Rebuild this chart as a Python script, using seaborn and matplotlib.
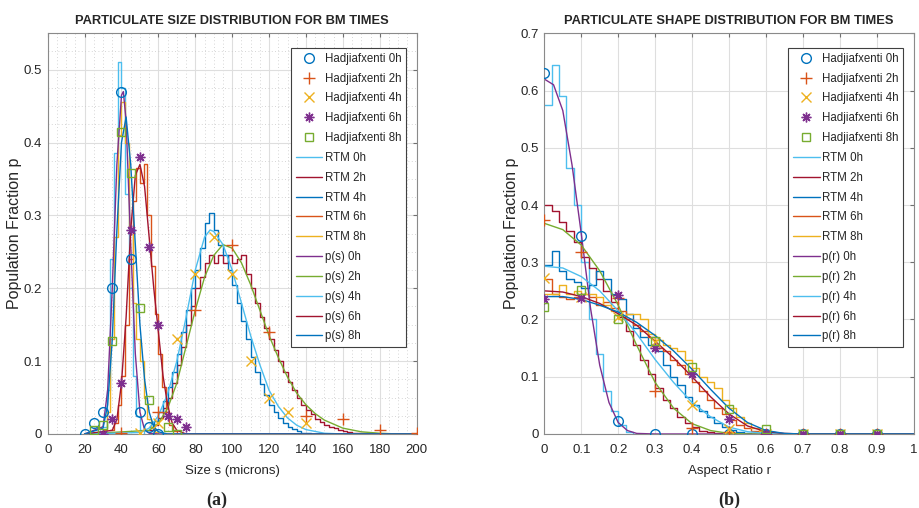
import numpy as np
import pandas as pd
import matplotlib
matplotlib.use("Agg")
import matplotlib.pyplot as plt
import seaborn as sns
from matplotlib.ticker import MultipleLocator, AutoMinorLocator

# ==========================================
# data
# ==========================================
# (a) size distribution -- Hadjiafxenti measured points
h0_s_x = [20, 25, 30, 35, 40, 45, 50, 55, 60]
h0_s_y = [0, 0.015, 0.03, 0.20, 0.47, 0.24, 0.03, 0.01, 0]
h2_s_x = [40, 60, 80, 100, 120, 140, 160, 180, 200]
h2_s_y = [0.002, 0.03, 0.17, 0.26, 0.14, 0.025, 0.02, 0.005, 0.002]
h4_s_x = [50, 60, 70, 80, 90, 100, 110, 120, 130, 140]
h4_s_y = [0.002, 0.015, 0.13, 0.22, 0.27, 0.22, 0.10, 0.05, 0.03, 0.015]
h6_s_x = [30, 35, 40, 45, 50, 55, 60, 65, 70, 75]
h6_s_y = [0, 0.02, 0.07, 0.28, 0.38, 0.256, 0.15, 0.025, 0.02, 0.01]
h8_s_x = [25, 30, 35, 40, 45, 50, 55, 65, 70]
h8_s_y = [0.005, 0.012, 0.127, 0.415, 0.358, 0.173, 0.046, 0.01, 0]

# RTM histograms (start of first bin, bin width, bin heights)
rtm0_s_start, rtm0_s_w = 30, 2
rtm0_s = [0.01, 0.06, 0.24, 0.385, 0.51, 0.475, 0.33, 0.2, 0.08, 0.025, 0.006]
rtm2_s_start, rtm2_s_w = 55, 2.5
rtm2_s = [0.005, 0.012, 0.022, 0.035, 0.05, 0.07, 0.095, 0.12, 0.15, 0.175,
          0.2, 0.215, 0.235, 0.245, 0.235, 0.245, 0.235, 0.245, 0.235, 0.24,
          0.245, 0.22, 0.2, 0.18, 0.16, 0.145, 0.13, 0.115, 0.1, 0.085,
          0.072, 0.06, 0.05, 0.04, 0.033, 0.027, 0.021, 0.017, 0.013, 0.01,
          0.008, 0.006, 0.004, 0.003, 0.002, 0.0015, 0.001, 0.001, 0.0005, 0.0005,
          0.0003, 0.0002, 0.0001, 0.0001]
rtm4_s_start, rtm4_s_w = 55, 2.5
rtm4_s = [0.01, 0.018, 0.03, 0.045, 0.065, 0.085, 0.11, 0.14, 0.17, 0.2,
          0.225, 0.255, 0.29, 0.303, 0.28, 0.26, 0.245, 0.225, 0.205, 0.18,
          0.155, 0.13, 0.105, 0.085, 0.068, 0.053, 0.04, 0.03, 0.022, 0.015,
          0.01, 0.007, 0.004, 0.002, 0.001]
rtm6_s_start, rtm6_s_w = 34, 2
rtm6_s = [0.005, 0.015, 0.04, 0.08, 0.15, 0.24, 0.32, 0.365, 0.345, 0.37,
          0.3, 0.23, 0.165, 0.11, 0.065, 0.03, 0.012, 0.004]
rtm8_s_start, rtm8_s_w = 30, 2
rtm8_s = [0.005, 0.03, 0.13, 0.27, 0.41, 0.455, 0.40, 0.28, 0.18, 0.13,
          0.10, 0.05, 0.02, 0.008, 0.003]

# fitted p(s) curves
p0_s_x = [20, 30, 32.5, 35, 37.5, 40, 41, 42.5, 45, 47.5, 50, 52.5, 55, 60, 200]
p0_s_y = [0, 0.01, 0.06, 0.2, 0.37, 0.465, 0.47, 0.43, 0.26, 0.11, 0.03, 0.006, 0.001, 0, 0]
p2_s_x = [20, 55, 60, 65, 70, 75, 80, 85, 90, 95, 100, 105, 110, 115, 120, 125,
          130, 135, 140, 145, 150, 160, 170, 180, 190, 200]
p2_s_y = [0, 0.005, 0.015, 0.035, 0.07, 0.12, 0.17, 0.215, 0.245, 0.26, 0.255, 0.235,
          0.205, 0.17, 0.135, 0.105, 0.078, 0.056, 0.04, 0.028, 0.019, 0.008, 0.003,
          0.001, 0, 0]
p4_s_x = [20, 50, 55, 60, 65, 70, 75, 80, 85, 88, 90, 95, 100, 105, 110, 115, 120,
          125, 130, 135, 140, 150, 160, 200]
p4_s_y = [0, 0.002, 0.008, 0.025, 0.055, 0.1, 0.16, 0.225, 0.27, 0.28, 0.278, 0.26,
          0.225, 0.18, 0.135, 0.095, 0.06, 0.038, 0.022, 0.012, 0.006, 0.001, 0, 0]
p6_s_x = [20, 35, 37.5, 40, 42.5, 45, 47.5, 50, 52.5, 55, 57.5, 60, 62.5, 65, 67.5,
          70, 75, 200]
p6_s_y = [0, 0.005, 0.02, 0.07, 0.16, 0.28, 0.355, 0.37, 0.34, 0.27, 0.2, 0.14,
          0.08, 0.04, 0.015, 0.005, 0, 0]
p8_s_x = [20, 30, 32.5, 35, 37.5, 40, 42.5, 45, 47.5, 50, 52.5, 55, 57.5, 60, 65, 200]
p8_s_y = [0, 0.008, 0.04, 0.13, 0.28, 0.40, 0.435, 0.37, 0.26, 0.15, 0.075, 0.03,
          0.01, 0.003, 0, 0]

# (b) shape distribution -- Hadjiafxenti measured points
r_pts = [0, 0.1, 0.2, 0.3, 0.4, 0.5, 0.6, 0.7, 0.8, 0.9]
h0_r = [0.63, 0.345, 0.023, 0, 0, 0, 0, 0, 0, 0]
h2_r = [0.373, 0.318, 0.237, 0.075, 0.01, 0.003, 0, 0, 0, 0]
h4_r = [0.272, 0.24, 0.205, 0.16, 0.05, 0.009, 0, 0, 0, 0]
h6_r = [0.235, 0.237, 0.243, 0.15, 0.105, 0.027, 0, 0, 0, 0]
h8_r = [0.222, 0.252, 0.2, 0.162, 0.117, 0.043, 0.008, 0, 0, 0]

rtm_r_start, rtm_r_w = 0, 0.02
rtm0_r = [0.575, 0.645, 0.59, 0.465, 0.40, 0.30, 0.20, 0.14, 0.075, 0.04,
          0.015, 0.004]
rtm2_r = [0.40, 0.39, 0.37, 0.355, 0.335, 0.31, 0.29, 0.27, 0.25, 0.23,
          0.205, 0.18, 0.155, 0.13, 0.105, 0.08, 0.06, 0.045, 0.03, 0.02,
          0.012, 0.006, 0.003, 0.001]
rtm4_r = [0.295, 0.32, 0.285, 0.27, 0.265, 0.255, 0.26, 0.285, 0.27, 0.245,
          0.235, 0.21, 0.185, 0.17, 0.155, 0.145, 0.12, 0.1, 0.085, 0.065,
          0.05, 0.04, 0.03, 0.02, 0.012, 0.007, 0.003, 0.001]
rtm6_r = [0.27, 0.245, 0.24, 0.235, 0.24, 0.245, 0.24, 0.225, 0.23, 0.22,
          0.215, 0.2, 0.19, 0.18, 0.17, 0.15, 0.145, 0.13, 0.12, 0.105,
          0.09, 0.075, 0.06, 0.045, 0.035, 0.025, 0.015, 0.01, 0.005, 0.002]
rtm8_r = [0.245, 0.245, 0.26, 0.245, 0.25, 0.245, 0.245, 0.24, 0.225, 0.215,
          0.2, 0.21, 0.21, 0.2, 0.175, 0.165, 0.155, 0.15, 0.145, 0.13,
          0.115, 0.1, 0.09, 0.08, 0.06, 0.045, 0.03, 0.02, 0.01, 0.005]

p0_r_x = [0, 0.025, 0.05, 0.075, 0.1, 0.125, 0.15, 0.175, 0.2, 0.225, 0.25, 0.3, 1]
p0_r_y = [0.62, 0.61, 0.565, 0.47, 0.35, 0.22, 0.12, 0.055, 0.02, 0.006, 0.001, 0, 0]
p_r_x = [0, 0.05, 0.1, 0.15, 0.2, 0.25, 0.3, 0.35, 0.4, 0.45, 0.5, 0.55, 0.6, 0.65, 0.7, 1]
p2_r_y = [0.368, 0.357, 0.33, 0.285, 0.225, 0.155, 0.09, 0.045, 0.018, 0.006, 0.001,
          0, 0, 0, 0, 0]
p4_r_y = [0.293, 0.29, 0.275, 0.25, 0.215, 0.175, 0.13, 0.09, 0.055, 0.03, 0.012,
          0.004, 0.001, 0, 0, 0]
p6_r_y = [0.25, 0.248, 0.24, 0.228, 0.21, 0.19, 0.162, 0.133, 0.1, 0.065, 0.035,
          0.014, 0.004, 0.001, 0, 0]
p8_r_y = [0.24, 0.24, 0.235, 0.225, 0.213, 0.195, 0.172, 0.145, 0.113, 0.078, 0.045,
          0.02, 0.006, 0.001, 0, 0]

times = ["0h", "2h", "4h", "6h", "8h"]

# ==========================================
# style
# ==========================================
sns.set_style("white")
plt.rcParams["font.family"] = ["Liberation Sans", "DejaVu Sans"]

mat = ["#0072BD", "#D95319", "#EDB120", "#7E2F8E", "#77AC30", "#4DBEEE", "#A2142F"]
mk = ["o", "+", "x", (8, 2, 0), "s"]
mk_size = [7, 8, 7, 7, 6]


def stair(ax, start, width, vals, color, label):
    edges = start + width * np.arange(len(vals) + 1)
    df = pd.DataFrame({"x": edges, "y": list(vals) + [0]})
    sns.lineplot(data=df, x="x", y="y", ax=ax, color=color, lw=1.0,
                 drawstyle="steps-post", sort=False, estimator=None, label=label)


def smooth(ax, x, y, color, label):
    sns.lineplot(x=x, y=y, ax=ax, color=color, lw=1.0, sort=False,
                 estimator=None, label=label)


def points(ax, x, y, i, label):
    sns.lineplot(x=x, y=y, ax=ax, color=mat[i], linestyle="", marker=mk[i],
                 markersize=mk_size[i], markerfacecolor="none", markeredgecolor=mat[i],
                 markeredgewidth=1.0, sort=False, estimator=None, label=label, zorder=5)


def dress(ax, title, xlabel, xmax, ymax, ystep, xstep, minor):
    ax.set_xlim(0, xmax)
    ax.set_ylim(0, ymax)
    ax.xaxis.set_major_locator(MultipleLocator(xstep))
    ax.yaxis.set_major_locator(MultipleLocator(ystep))
    ax.grid(True, which="major", color="#dedede", lw=0.8)
    if minor:
        ax.xaxis.set_minor_locator(AutoMinorLocator(4))
        ax.yaxis.set_minor_locator(AutoMinorLocator(4))
        ax.grid(True, which="minor", color="#c8c8c8", lw=0.6, ls=(0, (1, 3)))
    ax.set_axisbelow(True)
    ax.tick_params(which="both", direction="in", top=True, right=True,
                   length=3, color="#707070", labelsize=9.5, labelcolor="#262626", pad=7)
    ax.tick_params(axis="y", pad=4)
    ax.tick_params(which="minor", length=0)
    for sp in ax.spines.values():
        sp.set_color("#8a8a8a")
        sp.set_linewidth(0.8)
    ax.set_title(title, fontsize=9.3, fontweight="bold", pad=7)
    ax.set_xlabel(xlabel, fontsize=9.5, color="#262626", labelpad=7)
    ax.set_ylabel("Population Fraction p", fontsize=11.5, color="#262626", labelpad=1)
    h, l = ax.get_legend_handles_labels()
    leg = ax.legend(h, l, loc="upper right", bbox_to_anchor=(0.971, 0.963),
                    borderaxespad=0, fontsize=8.3, labelspacing=0.68, handlelength=2.3,
                    handletextpad=0.2, borderpad=0.4, fancybox=False, framealpha=1,
                    edgecolor="#404040")
    leg.get_frame().set_linewidth(0.8)


fig = plt.figure(figsize=(9.19, 5.08), dpi=100)
ax1 = fig.add_axes([0.0519, 0.1457, 0.4015, 0.7888])
ax2 = fig.add_axes([0.5923, 0.1457, 0.4020, 0.7888])

# ---- (a) size ----
for i, (x, y) in enumerate([(h0_s_x, h0_s_y), (h2_s_x, h2_s_y), (h4_s_x, h4_s_y),
                            (h6_s_x, h6_s_y), (h8_s_x, h8_s_y)]):
    points(ax1, x, y, i, f"Hadjiafxenti {times[i]}")
rtm_s = [(rtm0_s_start, rtm0_s_w, rtm0_s), (rtm2_s_start, rtm2_s_w, rtm2_s),
         (rtm4_s_start, rtm4_s_w, rtm4_s), (rtm6_s_start, rtm6_s_w, rtm6_s),
         (rtm8_s_start, rtm8_s_w, rtm8_s)]
for i, (st, w, v) in enumerate(rtm_s):
    stair(ax1, st, w, v, mat[(i + 5) % 7], f"RTM {times[i]}")
p_s = [(p0_s_x, p0_s_y), (p2_s_x, p2_s_y), (p4_s_x, p4_s_y), (p6_s_x, p6_s_y), (p8_s_x, p8_s_y)]
for i, (x, y) in enumerate(p_s):
    smooth(ax1, x, y, mat[(i + 10) % 7], f"p(s) {times[i]}")
dress(ax1, "PARTICULATE SIZE DISTRIBUTION FOR BM TIMES", "Size s (microns)",
      200, 0.55, 0.1, 20, True)
ax1.set_yticks([0, 0.1, 0.2, 0.3, 0.4, 0.5])
ax1.set_yticklabels(["0", "0.1", "0.2", "0.3", "0.4", "0.5"])

# ---- (b) shape ----
for i, y in enumerate([h0_r, h2_r, h4_r, h6_r, h8_r]):
    points(ax2, r_pts, y, i, f"Hadjiafxenti {times[i]}")
for i, v in enumerate([rtm0_r, rtm2_r, rtm4_r, rtm6_r, rtm8_r]):
    stair(ax2, rtm_r_start, rtm_r_w, v, mat[(i + 5) % 7], f"RTM {times[i]}")
smooth(ax2, p0_r_x, p0_r_y, mat[3], "p(r) 0h")
for i, y in enumerate([p2_r_y, p4_r_y, p6_r_y, p8_r_y]):
    smooth(ax2, p_r_x, y, mat[(i + 11) % 7], f"p(r) {times[i + 1]}")
dress(ax2, "PARTICULATE SHAPE DISTRIBUTION FOR BM TIMES", "Aspect Ratio r",
      1, 0.7, 0.1, 0.1, False)
ax2.set_xticks(np.arange(0, 1.01, 0.1))
ax2.set_xticklabels(["0", "0.1", "0.2", "0.3", "0.4", "0.5", "0.6", "0.7", "0.8", "0.9", "1"])
ax2.set_yticks(np.arange(0, 0.71, 0.1))
ax2.set_yticklabels(["0", "0.1", "0.2", "0.3", "0.4", "0.5", "0.6", "0.7"])

fig.text(0.236, 0.006, "(a)", fontsize=13, fontweight="bold",
         family=["Liberation Serif", "DejaVu Serif"], ha="center")
fig.text(0.794, 0.006, "(b)", fontsize=13, fontweight="bold",
         family=["Liberation Serif", "DejaVu Serif"], ha="center")

fig.savefig("out.png", dpi=100)
